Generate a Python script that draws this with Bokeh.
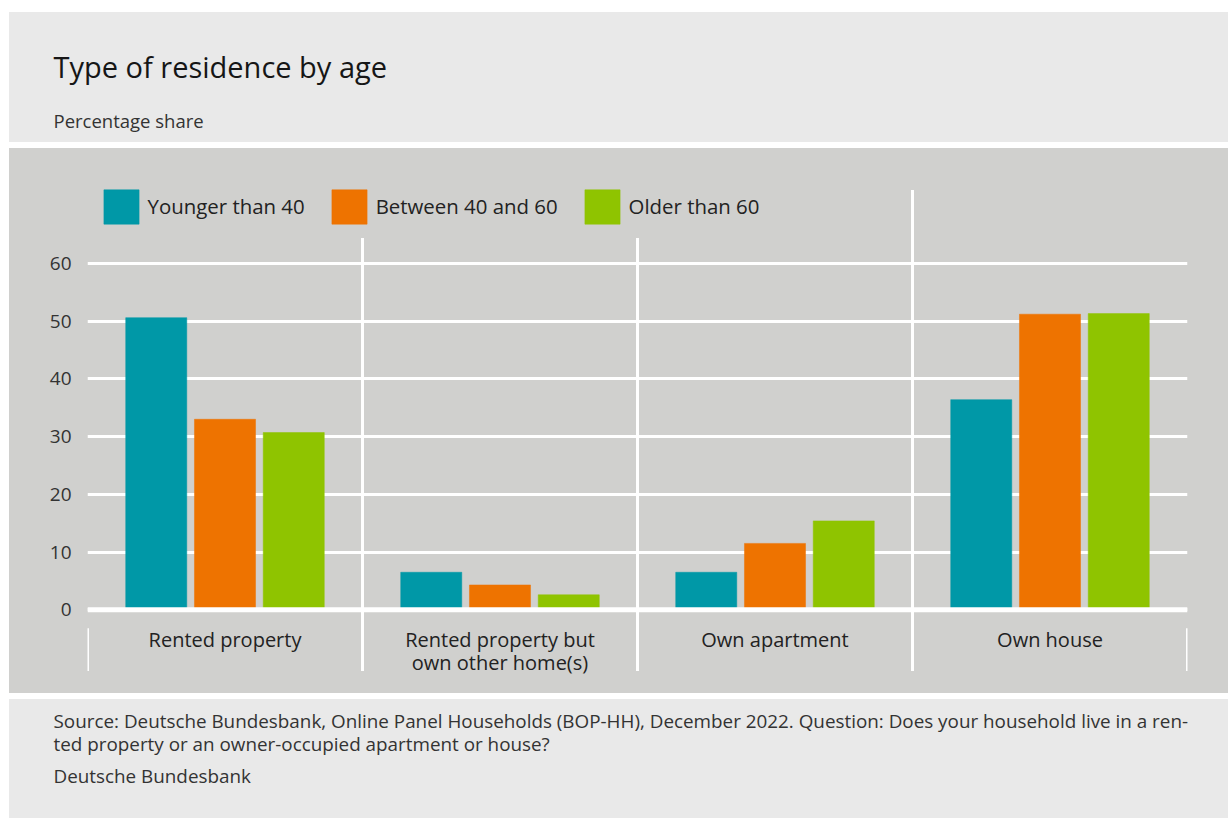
from bokeh.plotting import figure
from bokeh.models import ColumnDataSource, Label, Span, FixedTicker
from bokeh.transform import dodge
from bokeh.layouts import column
from bokeh.embed import file_html
from bokeh.resources import INLINE
from bokeh.core.properties import value

# ---------------- data ----------------
categories = ["Rented property", "Rented property but\nown other home(s)", "Own apartment", "Own house"]
series_names = ["Younger than 40", "Between 40 and 60", "Older than 60"]
younger_than_40 = [50.6, 6.5, 6.5, 36.4]
between_40_and_60 = [33.0, 4.3, 11.5, 51.2]
older_than_60 = [30.7, 2.6, 15.4, 51.3]
y_ticks = [0, 10, 20, 30, 40, 50, 60]

title_text = "Type of residence by age"
subtitle_text = "Percentage share"
footer_lines = [
    "Source: Deutsche Bundesbank, Online Panel Households (BOP-HH), December 2022. Question: Does your household live in a ren-",
    "ted property or an owner-occupied apartment or house?",
    "Deutsche Bundesbank",
]

# ---------------- style ----------------
FONT = "Open Sans"
LIGHT = "#e9e9e9"
DARK = "#d0d0ce"
COLORS = ["#0098a7", "#ee7300", "#8fc400"]
TEXT = "#222222"

W = 1219


def panel(h, margin):
    f = figure(width=W, height=h, x_range=(0, W), y_range=(0, h),
               output_backend="svg", toolbar_location=None,
               x_axis_location=None, y_axis_location=None, min_border=0,
               background_fill_color=LIGHT, border_fill_color=LIGHT,
               outline_line_color=None, margin=margin, frame_align=False)
    f.grid.visible = False
    f.styles = {"background-color": LIGHT}
    return f


# title panel
top = panel(130, (12, 0, 0, 9))
top.add_layout(Label(x=44, y=76, text=title_text, text_font=FONT, text_font_size="29px",
                     text_color="#161616", text_baseline="alphabetic"))
top.add_layout(Label(x=44, y=22, text=subtitle_text, text_font=FONT, text_font_size="18.5px",
                     text_color="#333333", text_baseline="alphabetic"))

# main chart
p = figure(width=W, height=545, x_range=(0, 4), y_range=(-14.5, 79.9),
           output_backend="svg", toolbar_location=None,
           min_border_left=78, min_border_right=41, min_border_top=0, min_border_bottom=0,
           background_fill_color=DARK, border_fill_color=DARK, outline_line_color=None,
           x_axis_location=None, margin=(6, 0, 0, 9), frame_align=False)
p.styles = {"background-color": DARK}
p.xgrid.visible = False
p.ygrid.ticker = FixedTicker(ticks=y_ticks)
p.ygrid.grid_line_color = "white"
p.ygrid.grid_line_width = 3
p.yaxis.ticker = FixedTicker(ticks=y_ticks)
p.yaxis.axis_line_color = None
p.yaxis.major_tick_line_color = None
p.yaxis.minor_tick_line_color = None
p.yaxis.major_label_standoff = 10
p.yaxis.major_label_text_font = FONT
p.yaxis.major_label_text_font_size = "19px"
p.yaxis.major_label_text_color = "#333333"

cat_x = [i + 0.5 for i in range(len(categories))]
src = ColumnDataSource(dict(x=cat_x, cat=categories, s0=younger_than_40,
                            s1=between_40_and_60, s2=older_than_60))

p.add_layout(Span(location=0, dimension="width", line_color="white", line_width=5))

offsets = [-0.25, 0.0, 0.25]
for k, (name, col, off) in enumerate(zip(series_names, COLORS, offsets)):
    p.vbar(x=dodge("x", off, range=p.x_range), top="s%d" % k, width=0.222, source=src,
           fill_color=col, line_color=col, line_width=0.5, legend_label=name)

# category separators
bounds = list(range(1, len(categories)))
p.segment(x0=bounds, y0=[-10.6] * len(bounds), x1=bounds, y1=[64.4, 64.4, 72.7],
          line_color="white", line_width=3)
p.segment(x0=[0, len(categories)], y0=[-3.2, -3.2], x1=[0, len(categories)], y1=[-10.6, -10.6],
          line_color="white", line_width=3)

p.text(x="x", y=-2.86, text="cat", source=src, text_align="center", text_baseline="top",
       text_font=value(FONT), text_font_size="20px", text_color=TEXT, text_line_height=0.85)

lg = p.legend[0]
lg.location = (11.6, 465.5)
lg.orientation = "horizontal"
lg.glyph_width = 44
lg.glyph_height = 43
lg.label_standoff = 5
lg.spacing = 22
lg.padding = 0
lg.margin = 0
lg.background_fill_alpha = 0
lg.border_line_color = None
lg.label_text_font = FONT
lg.label_text_font_size = "20.4px"
lg.label_text_color = TEXT

# footer panel
bottom = panel(119, (6, 0, 0, 9))
for txt, yy in zip(footer_lines, [97.7, 74.3, 42.7]):
    bottom.add_layout(Label(x=44, y=yy, text=txt, text_font=FONT, text_font_size="18.85px",
                            text_color="#333333", text_baseline="alphabetic"))

layout = column(top, p, bottom, spacing=0)
open("out.html", "w").write(file_html(layout, INLINE))
